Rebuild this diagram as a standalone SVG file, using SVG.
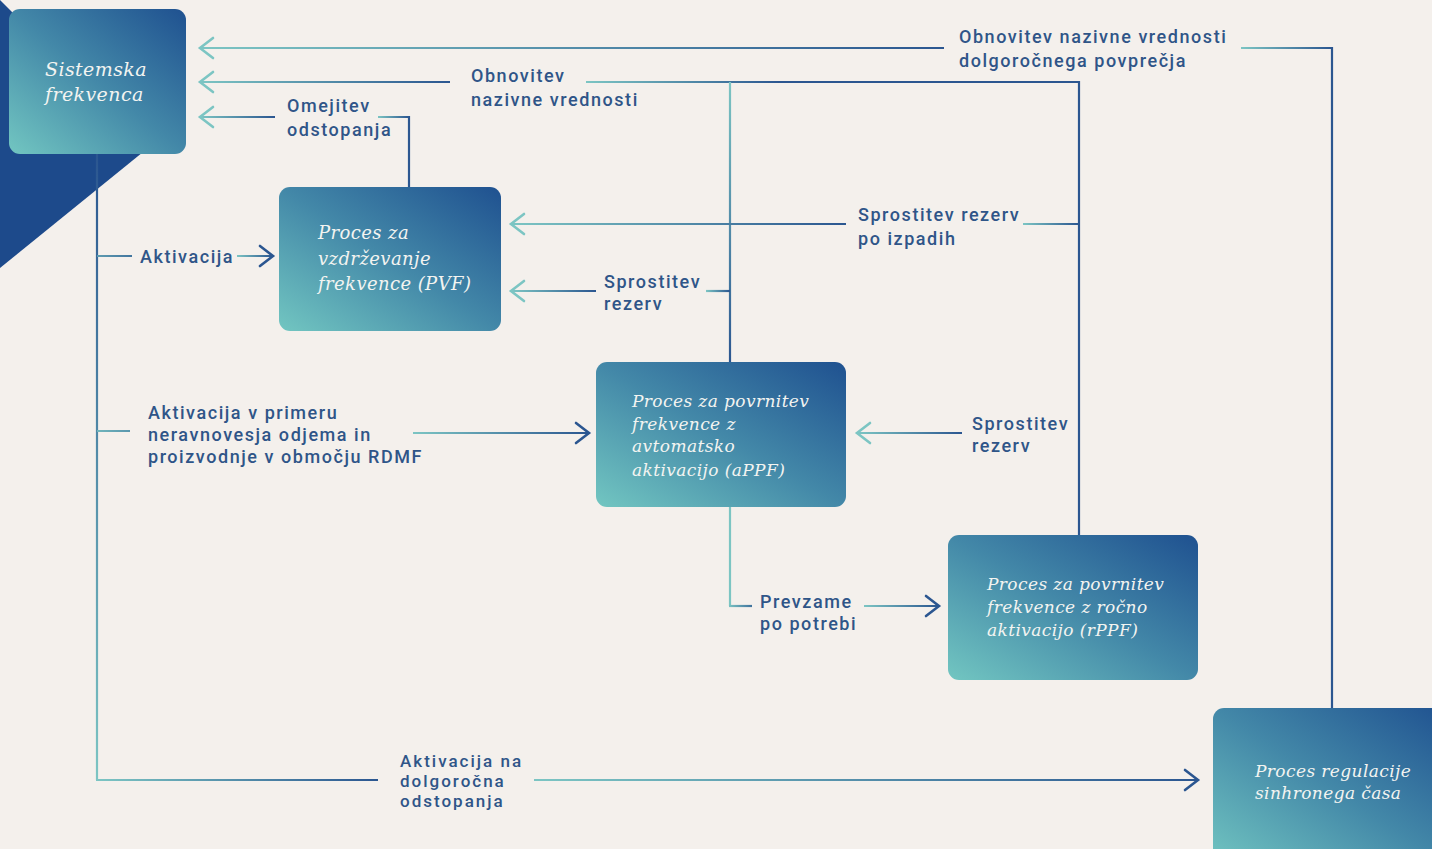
<svg xmlns="http://www.w3.org/2000/svg" width="1432" height="849" viewBox="0 0 1432 849">
  <style>
    .lbl { font-family: Roboto, "Noto Sans", "Liberation Sans", sans-serif; font-weight: 500; font-size: 18px; letter-spacing: 1.55px; fill: #2f5588; }
    .sm { font-size: 17px; letter-spacing: 2px; }
    .box-t { font-family: "DejaVu Serif", "Liberation Serif", serif; font-style: italic; font-size: 17px; letter-spacing: 0.4px; fill: #f3f4f1; }
    .ln { fill: none; stroke-width: 2.2; }
    .box { fill: url(#boxg); }
  </style>
  <defs>
    <linearGradient id="boxg" x1="0" y1="1" x2="1" y2="0">
      <stop offset="0" stop-color="#72c6c1"/>
      <stop offset="0.5" stop-color="#4388a8"/>
      <stop offset="1" stop-color="#1f5190"/>
    </linearGradient>
    <linearGradient id="tb">
      <stop offset="0" stop-color="#7cc5c3"/>
      <stop offset="1" stop-color="#2b5690"/>
    </linearGradient>
    <linearGradient id="g1" href="#tb" gradientUnits="userSpaceOnUse" x1="200" y1="0" x2="944" y2="0"/>
    <linearGradient id="g2" href="#tb" gradientUnits="userSpaceOnUse" x1="1241" y1="0" x2="1332" y2="0"/>
    <linearGradient id="g3" href="#tb" gradientUnits="userSpaceOnUse" x1="200" y1="0" x2="450" y2="0"/>
    <linearGradient id="g4" href="#tb" gradientUnits="userSpaceOnUse" x1="586" y1="0" x2="780" y2="0"/>
    <linearGradient id="g5" href="#tb" gradientUnits="userSpaceOnUse" x1="0" y1="82" x2="0" y2="362"/>
    <linearGradient id="g6" href="#tb" gradientUnits="userSpaceOnUse" x1="200" y1="0" x2="275" y2="0"/>
    <linearGradient id="g7" href="#tb" gradientUnits="userSpaceOnUse" x1="378" y1="0" x2="409" y2="0"/>
    <linearGradient id="g8" href="#tb" gradientUnits="userSpaceOnUse" x1="512" y1="0" x2="846" y2="0"/>
    <linearGradient id="g9" href="#tb" gradientUnits="userSpaceOnUse" x1="1023" y1="0" x2="1079" y2="0"/>
    <linearGradient id="g10" href="#tb" gradientUnits="userSpaceOnUse" x1="512" y1="0" x2="596" y2="0"/>
    <linearGradient id="g11" href="#tb" gradientUnits="userSpaceOnUse" x1="706" y1="0" x2="730" y2="0"/>
    <linearGradient id="g12" href="#tb" gradientUnits="userSpaceOnUse" x1="858" y1="0" x2="962" y2="0"/>
    <linearGradient id="g13" href="#tb" gradientUnits="userSpaceOnUse" x1="0" y1="780" x2="0" y2="154"/>
    <linearGradient id="g14" href="#tb" gradientUnits="userSpaceOnUse" x1="97" y1="0" x2="378" y2="0"/>
    <linearGradient id="g15" href="#tb" gradientUnits="userSpaceOnUse" x1="534" y1="0" x2="1197" y2="0"/>
    <linearGradient id="g16" href="#tb" gradientUnits="userSpaceOnUse" x1="60" y1="0" x2="160" y2="0"/>
    <linearGradient id="g17" href="#tb" gradientUnits="userSpaceOnUse" x1="237" y1="0" x2="272" y2="0"/>
    <linearGradient id="g18" href="#tb" gradientUnits="userSpaceOnUse" x1="80" y1="0" x2="200" y2="0"/>
    <linearGradient id="g19" href="#tb" gradientUnits="userSpaceOnUse" x1="413" y1="0" x2="588" y2="0"/>
    <linearGradient id="g20" href="#tb" gradientUnits="userSpaceOnUse" x1="728" y1="0" x2="760" y2="0"/>
    <linearGradient id="g21" href="#tb" gradientUnits="userSpaceOnUse" x1="864" y1="0" x2="938" y2="0"/>
    <marker id="aT" markerUnits="userSpaceOnUse" viewBox="-15 -12 18 24" markerWidth="18" markerHeight="24" refX="0" refY="0" orient="auto">
      <path d="M-13,-10 L0,0 L-13,10" fill="none" stroke="#7cc5c3" stroke-width="2.6" stroke-linecap="round"/>
    </marker>
    <marker id="aB" markerUnits="userSpaceOnUse" viewBox="-15 -12 18 24" markerWidth="18" markerHeight="24" refX="0" refY="0" orient="auto">
      <path d="M-13,-10 L0,0 L-13,10" fill="none" stroke="#2b5690" stroke-width="2.6" stroke-linecap="round"/>
    </marker>
  </defs>

  <rect x="0" y="0" width="1432" height="849" fill="#f4f0ec"/>
  <polygon points="0,0 148,148 0,268" fill="#1d4a8b"/>

  <g id="connectors">
    <path class="ln" stroke="url(#g2)" d="M1332,708 V48 H1241"/>
    <path class="ln" stroke="url(#g1)" d="M944,48 H200" marker-end="url(#aT)"/>
    <path class="ln" stroke="#2b5690" d="M1079,535 V82 H760"/>
    <path class="ln" stroke="url(#g4)" d="M780,82 H586"/>
    <path class="ln" stroke="url(#g5)" d="M730,362 V82"/>
    <path class="ln" stroke="url(#g3)" d="M450,82 H200" marker-end="url(#aT)"/>
    <path class="ln" stroke="url(#g7)" d="M409,187 V117 H378"/>
    <path class="ln" stroke="url(#g6)" d="M275,117 H200" marker-end="url(#aT)"/>
    <path class="ln" stroke="url(#g9)" d="M1079,224 H1023"/>
    <path class="ln" stroke="url(#g8)" d="M846,224 H511" marker-end="url(#aT)"/>
    <path class="ln" stroke="url(#g11)" d="M730,291 H706"/>
    <path class="ln" stroke="url(#g10)" d="M596,291 H511" marker-end="url(#aT)"/>
    <path class="ln" stroke="url(#g12)" d="M962,433 H857" marker-end="url(#aT)"/>
    <path class="ln" stroke="url(#g13)" d="M97,154 V780"/>
    <path class="ln" stroke="url(#g14)" d="M96,780 H378"/>
    <path class="ln" stroke="url(#g15)" d="M534,780 H1198" marker-end="url(#aB)"/>
    <path class="ln" stroke="url(#g16)" d="M97,256 H132"/>
    <path class="ln" stroke="url(#g17)" d="M237,256 H273" marker-end="url(#aB)"/>
    <path class="ln" stroke="url(#g18)" d="M97,431 H130"/>
    <path class="ln" stroke="url(#g19)" d="M413,433 H589" marker-end="url(#aB)"/>
    <path class="ln" stroke="#7cc5c3" d="M730,507 V606"/>
    <path class="ln" stroke="url(#g20)" d="M729,606 H752"/>
    <path class="ln" stroke="url(#g21)" d="M864,606 H939" marker-end="url(#aB)"/>
  </g>

  <g id="labels">
    <text class="lbl" x="959" y="43">Obnovitev nazivne vrednosti<tspan x="959" y="67">dolgoročnega povprečja</tspan></text>
    <text class="lbl" x="471" y="82">Obnovitev<tspan x="471" y="106">nazivne vrednosti</tspan></text>
    <text class="lbl" x="287" y="112">Omejitev<tspan x="287" y="136">odstopanja</tspan></text>
    <text class="lbl" x="140" y="263">Aktivacija</text>
    <text class="lbl" x="858" y="221">Sprostitev rezerv<tspan x="858" y="245">po izpadih</tspan></text>
    <text class="lbl" x="604" y="288">Sprostitev<tspan x="604" y="310">rezerv</tspan></text>
    <text class="lbl" x="972" y="430">Sprostitev<tspan x="972" y="452">rezerv</tspan></text>
    <text class="lbl" x="148" y="419">Aktivacija v primeru<tspan x="148" y="441">neravnovesja odjema in</tspan><tspan x="148" y="463">proizvodnje v območju RDMF</tspan></text>
    <text class="lbl" x="760" y="608">Prevzame<tspan x="760" y="630">po potrebi</tspan></text>
    <text class="lbl sm" x="400" y="767">Aktivacija na<tspan x="400" y="787">dolgoročna</tspan><tspan x="400" y="807">odstopanja</tspan></text>
  </g>

  <g id="node-sistemska">
    <rect class="box" x="9" y="9" width="177" height="145" rx="11"/>
    <text class="box-t" x="45" y="76" style="font-size:19px">Sistemska<tspan x="45" y="101">frekvenca</tspan></text>
  </g>
  <g id="node-pvf">
    <rect class="box" x="279" y="187" width="222" height="144" rx="11"/>
    <text class="box-t" x="318" y="239" style="font-size:18px">Proces za<tspan x="318" y="265">vzdrževanje</tspan><tspan x="318" y="290">frekvence (PVF)</tspan></text>
  </g>
  <g id="node-appf">
    <rect class="box" x="596" y="362" width="250" height="145" rx="11"/>
    <text class="box-t" x="632" y="407">Proces za povrnitev<tspan x="632" y="430">frekvence z</tspan><tspan x="632" y="452">avtomatsko</tspan><tspan x="632" y="476">aktivacijo (aPPF)</tspan></text>
  </g>
  <g id="node-rppf">
    <rect class="box" x="948" y="535" width="250" height="145" rx="11"/>
    <text class="box-t" x="987" y="590">Proces za povrnitev<tspan x="987" y="613">frekvence z ročno</tspan><tspan x="987" y="636">aktivacijo (rPPF)</tspan></text>
  </g>
  <g id="node-regulacija">
    <rect class="box" x="1213" y="708" width="240" height="160" rx="11"/>
    <text class="box-t" x="1255" y="777">Proces regulacije<tspan x="1255" y="799">sinhronega časa</tspan></text>
  </g>
</svg>
